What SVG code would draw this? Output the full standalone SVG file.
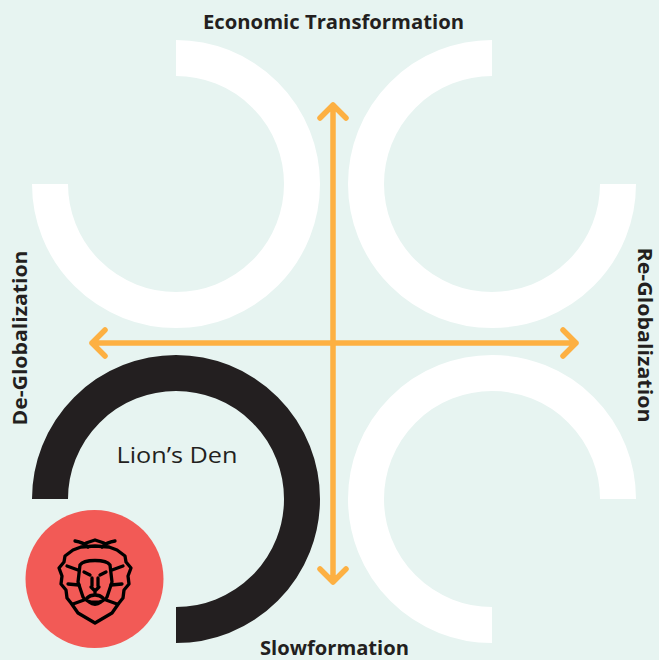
<svg xmlns="http://www.w3.org/2000/svg" width="659" height="660" viewBox="0 0 659 660">
<style>
.arc{fill:none;stroke-width:36;stroke-linecap:butt}
.w{stroke:#ffffff}
.k{stroke:#231f20}
.ax{fill:none;stroke:#fdb042;stroke-width:5.5;stroke-linecap:round;stroke-linejoin:round}
.lbl{font-family:"Open Sans","Liberation Sans",sans-serif;font-weight:700;font-size:20px;fill:#231f20}
.den{font-family:"Open Sans","Liberation Sans",sans-serif;font-size:22px;fill:#231f20}
.lion{fill:none;stroke:#000;stroke-width:3.3;stroke-linecap:round;stroke-linejoin:round}
</style>
<rect width="659" height="660" fill="#e7f4f1"/>
<g id="quadrant-tl"><path class="arc w" d="M176,58 A126,126 0 1 1 50,184"/></g>
<g id="quadrant-tr"><path class="arc w" d="M492,58 A126,126 0 1 0 618,184"/></g>
<g id="quadrant-br"><path class="arc w" d="M618,499 A126,126 0 1 0 492,625"/></g>
<g id="lions-den">
<path class="arc k" d="M50,499 A126,126 0 1 1 176,625"/>
<text class="den" x="177" y="463" text-anchor="middle" textLength="121" lengthAdjust="spacingAndGlyphs">Lion’s Den</text>
</g>
<g id="connectors">
<path class="ax" d="M333,105 V582 M320,118 L333,105 L346,118 M320,569 L333,582 L346,569"/>
<path class="ax" d="M92,343 H576 M105,330 L92,343 L105,356 M563,330 L576,343 L563,356"/>
</g>
<g id="label-top"><text class="lbl" x="333.5" y="29" text-anchor="middle" textLength="261" lengthAdjust="spacingAndGlyphs">Economic Transformation</text></g>
<g id="label-bottom"><text class="lbl" x="334.5" y="655" text-anchor="middle" textLength="149" lengthAdjust="spacingAndGlyphs">Slowformation</text></g>
<g id="label-left"><text class="lbl" transform="translate(27,338) rotate(-90)" x="0" y="0" text-anchor="middle" textLength="175" lengthAdjust="spacingAndGlyphs">De-Globalization</text></g>
<g id="label-right"><text class="lbl" transform="translate(638,335) rotate(90)" x="0" y="0" text-anchor="middle" textLength="175" lengthAdjust="spacingAndGlyphs">Re-Globalization</text></g>
<g id="lion-icon">
<circle cx="94.5" cy="579" r="69" fill="#f25a56"/>
<path class="lion" d="M95,623 L78,613 L71,603 L67,598 L66,590 L61,584 L62,576 L59,568 L64,562 L65,556 L73,550 L81,547 L95,546 L109,547 L117,550 L125,556 L126,562 L131,568 L128,576 L129,584 L124,590 L123,598 L119,603 L112,613 Z"/>
<path class="lion" d="M75,541 C81,542 85,544 88,547 M115,541 C109,542 105,544 102,547 M86,543 L95,540 L104,543"/>
<path class="lion" d="M80,565 C84,559 106,559 110,565 L112,582 L107,597 C103,604 87,604 83,597 L78,582 Z"/>
<path class="lion" d="M67,566 L78,570 M123,566 L112,570 M68,584 L79,585 M122,584 L111,585 M73,604 L84,600 M117,604 L106,600"/>
<path class="lion" d="M84,572 L90,575 M106,572 L100,575 M92,578 L92,586 M98,578 L98,586 M91,587 L95,591 L99,587 M95,591 L95,594 M87,598 C91,594 99,594 103,598 M89,602 C93,605 97,605 101,602"/>
</g>
</svg>
